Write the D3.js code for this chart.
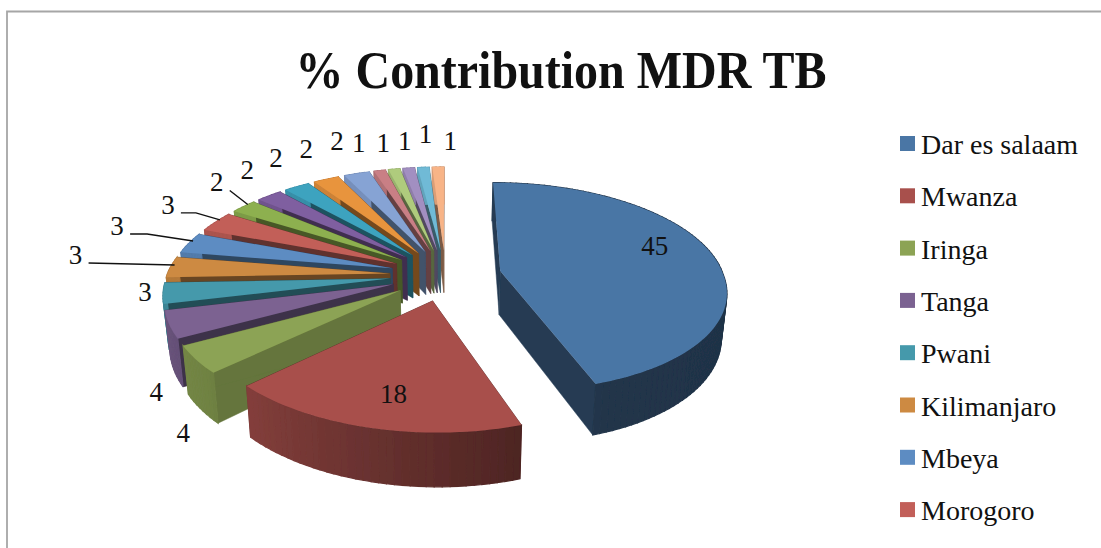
<!DOCTYPE html>
<html>
<head>
<meta charset="utf-8">
<script src="https://d3js.org/d3.v7.min.js"></script>
<style>
  html, body { margin: 0; padding: 0; background: #fff; overflow: hidden; }
  text { font-family: "Liberation Serif", serif; fill: #111; }
</style>
</head>
<body>
<svg id="chart" width="1101" height="548"></svg>
<script>
const legendNames = ['Dar es salaam', 'Mwanza', 'Iringa', 'Tanga', 'Pwani', 'Kilimanjaro', 'Mbeya', 'Morogoro'];
const values = [45, 18, 4.1, 4.1, 3.2, 3.2, 3.2, 3.2, 2.2, 2.2, 2.2, 2.2, 2.2, 1, 1, 1, 1, 1];
const colors = ['#4a76a5', '#a8504c', '#8ca354', '#7b6291', '#4599ab', '#cd8a42', '#5d8cc2', '#c25f59', '#8db04f',
                '#7f5ea0', '#3ea3bf', '#e8943e', '#86a3d4', '#c97f85', '#afcb7d', '#a28fc1', '#6fbad6', '#f8b487'];
// label offset from the outer middle of each slice, the source chart has hand moved labels
const labelDx = [-58, 24, -13, -13, -18, -95, -72, -48, -27, -22, -21, -20, -20, -21, -11, -4, 2, 12];
const labelDy = [-9, -34, 73, 67, -1, -12, -17, -17, -24, -26, -29, -30, -33, -28, -26, -27, -33, -26];
// slices with a leader line, and how long the flat part of that line is
const leaderElbow = { 5: 0, 6: 17, 7: 15, 8: 0 };

const svg = d3.select('#chart');

// Perspective of the 3D pie, ground plane coordinates have pie radius 1
const radius = 223;
const explode = 0.25;
const tilt = 0.152;
const centerX = 445.5;
const horizonY = -402;
const planeH = 677;
const shear = 6;
const depth = 44;
const sideShrink = 0.98;

function project(gx, gy, bottom) {
    const w = 1 - tilt * gy;
    let dx = (radius * gx + shear * Math.max(gy, 0)) / w;
    let y = horizonY + planeH / w;
    if (bottom) {
        dx *= sideShrink;
        y += depth / w;
    }
    return [centerX + dx, y];
}

// how light the outer wall is at a clock angle in degrees
const wallShade = d3.scaleLinear().domain([0, 90, 160, 230, 270, 360]).range([0.5, 0.42, 0.45, 0.8, 0.88, 0.88]);

const arcs = d3.pie().sort(null).value(d => d)(values).map((d, i) => {
    const mid = (d.startAngle + d.endAngle) / 2;
    return {
        index: i,
        start: d.startAngle,
        end: d.endAngle,
        mid: mid,
        offX: Math.sin(mid) * explode,
        offY: -Math.cos(mid) * explode,
        color: colors[i]
    };
});

function groundPoint(a, angle, r) {
    return [a.offX + Math.sin(angle) * r, a.offY - Math.cos(angle) * r];
}

function arcAngles(a) {
    const steps = Math.max(2, Math.ceil((a.end - a.start) / 0.03));
    return d3.range(steps + 1).map(k => a.start + (a.end - a.start) * k / steps);
}

function shade(color, f) {
    const c = d3.rgb(color);
    return d3.rgb(c.r * f, c.g * f, c.b * f).formatHex();
}

const line = d3.line();
const defs = svg.append('defs');
defs.append('filter').attr('id', 'soft')
    .append('feGaussianBlur').attr('stdDeviation', 0.6);

// Frame of the chart area
svg.append('path')
    .attr('d', line([[7, 548], [7, 11.5], [1101, 11.5]]))
    .attr('fill', 'none')
    .attr('stroke', '#a6a6a6')
    .attr('stroke-width', 1.8);

svg.append('text')
    .attr('x', 561)
    .attr('y', 88)
    .attr('text-anchor', 'middle')
    .attr('font-size', 53)
    .attr('font-weight', 'bold')
    .attr('textLength', 531)
    .attr('lengthAdjust', 'spacingAndGlyphs')
    .text('% Contribution MDR TB');

const pie = svg.append('g').attr('filter', 'url(#soft)');

// Far slices first so nearer ones cover their walls
const drawOrder = arcs.slice().sort((a, b) => a.offY - b.offY);

drawOrder.forEach(a => {
    const g = pie.append('g');
    const apex = [a.offX, a.offY];
    const sideColor = shade(a.color, a.index === 2 ? 0.72 : 0.5);

    // radial walls
    [a.start, a.end].forEach(angle => {
        const p = groundPoint(a, angle, 1);
        g.append('path')
            .attr('d', line([project(apex[0], apex[1]), project(p[0], p[1]),
                             project(p[0], p[1], true), project(apex[0], apex[1], true)]) + 'Z')
            .attr('fill', sideColor)
            .attr('stroke', sideColor)
            .attr('stroke-width', 0.5);
    });

    // outer wall, split up so the shade can follow the curve
    const angles = arcAngles(a);
    angles.slice(1).forEach((angle, k) => {
        const p0 = groundPoint(a, angles[k], 1);
        const p1 = groundPoint(a, angle, 1);
        const deg = (angles[k] + angle) / 2 * 180 / Math.PI;
        const fill = shade(a.color, wallShade(deg));
        g.append('path')
            .attr('d', line([project(p0[0], p0[1]), project(p1[0], p1[1]),
                             project(p1[0], p1[1], true), project(p0[0], p0[1], true)]) + 'Z')
            .attr('fill', fill)
            .attr('stroke', fill)
            .attr('stroke-width', 1.2);
    });

    // top face
    const top = [project(apex[0], apex[1])].concat(angles.map(angle => {
        const p = groundPoint(a, angle, 1);
        return project(p[0], p[1]);
    }));
    g.append('path')
        .attr('d', line(top) + 'Z')
        .attr('fill', a.color);
});

// Data labels and leader lines
arcs.forEach(a => {
    const p = groundPoint(a, a.mid, 1);
    const anchor = project(p[0], p[1]);
    const lx = anchor[0] + labelDx[a.index];
    const ly = anchor[1] + labelDy[a.index];

    svg.append('text')
        .attr('x', lx)
        .attr('y', ly)
        .attr('text-anchor', 'middle')
        .attr('dominant-baseline', 'central')
        .attr('font-size', 27)
        .text(d3.format('.0f')(values[a.index]));

    if (a.index in leaderElbow) {
        const sx = lx + 13;
        const sy = ly + 8;
        svg.append('path')
            .attr('d', line([[sx, sy], [sx + leaderElbow[a.index], sy], [anchor[0] + 4, anchor[1] - 2]]))
            .attr('fill', 'none')
            .attr('stroke', '#111')
            .attr('stroke-width', 1.4);
    }
});

// Legend, the source picture is cut off after the eighth entry
const legendY = d3.scaleLinear().domain([0, 1]).range([136, 188.3]);
const legend = svg.selectAll('.legend-item')
    .data(legendNames)
    .enter()
    .append('g')
    .attr('class', 'legend-item')
    .attr('transform', (d, i) => `translate(900, ${legendY(i)})`);

legend.append('rect')
    .attr('width', 15)
    .attr('height', 15)
    .attr('fill', (d, i) => colors[i]);

legend.append('text')
    .attr('x', 21)
    .attr('y', 18)
    .attr('font-size', 28)
    .text(d => d);
</script>
</body>
</html>
